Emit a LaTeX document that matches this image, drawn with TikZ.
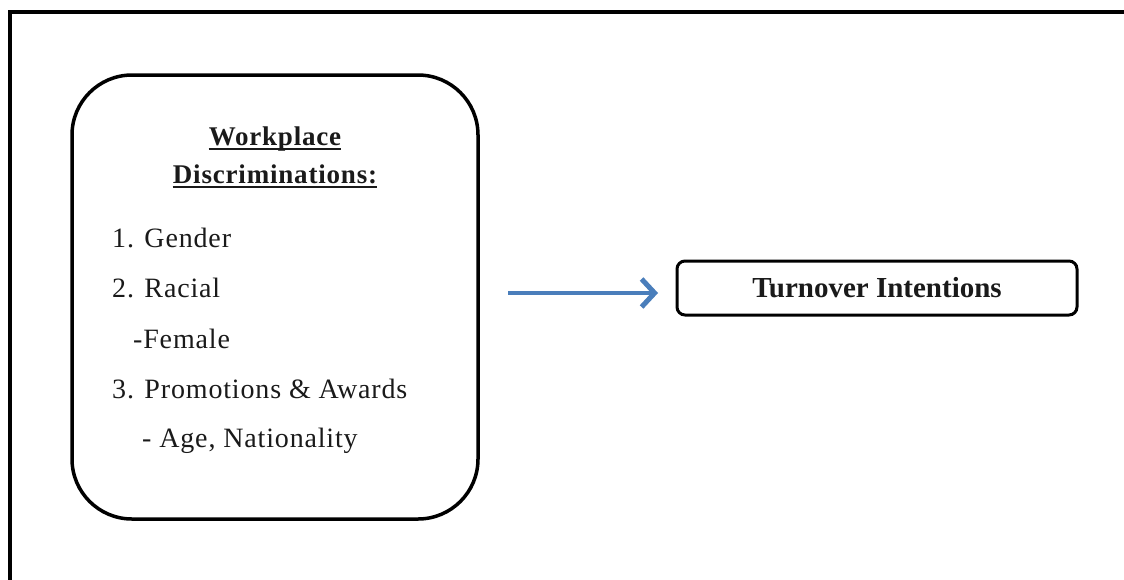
\documentclass[tikz,border=0pt]{standalone}
\usepackage{fontspec}
\setmainfont{Liberation Serif}
\newfontfamily\itemfont[LetterSpace=3, WordSpace=0.85]{Liberation Serif}
\newfontfamily\headfont[LetterSpace=3]{Liberation Serif}
\usetikzlibrary{arrows.meta}
\definecolor{flowblue}{HTML}{4A7EBB}
\definecolor{ink}{HTML}{1A1A1A}
\tikzset{
  frame/.style={line width=4pt, draw=black},
  rbox/.style={draw=black, line width=3.5pt, rounded corners=60pt, minimum width=406pt, minimum height=444pt, inner sep=0pt},
  tbox/.style={draw=black, line width=3pt, rounded corners=8pt, minimum width=400pt, minimum height=54pt, inner sep=0pt, font=\fontsize{29}{34}\selectfont\bfseries, text=ink},
  item/.style={anchor=base west, inner sep=0pt, font=\itemfont\fontsize{28}{33}\selectfont, text=ink},
  head/.style={anchor=base, inner sep=0pt, font=\headfont\fontsize{27}{32}\selectfont\bfseries, text=ink},
  uline/.style={line width=2pt, draw=ink},
  flow/.style={draw=flowblue, line width=4pt, -{Straight Barb[length=13pt, width=28pt, line width=5pt]}}
}
\begin{document}
\begin{tikzpicture}[x=1pt, y=-1pt]
\useasboundingbox (0,0) rectangle (1124,579);
\fill[white] (0,0) rectangle (1124,579);
\draw[frame] (10,581) -- (10,12) -- (1126,12);
\node[rbox] (disc) at (275,297) {};
\node[head] (h1) at (275,145) {Workplace};
\node[head] (h2) at (275,183) {Discriminations:};
\draw[uline] ([yshift=-4pt]h1.base west) -- ([yshift=-4pt]h1.base east);
\draw[uline] ([yshift=-4pt]h2.base west) -- ([yshift=-4pt]h2.base east);
\node[item] (l1) at (112,247) {1. Gender};
\node[item] (l2) at (112,297) {2. Racial};
\node[item] (l3) at (133,348) {-Female};
\node[item] (l4) at (112,398) {3. Promotions \& Awards};
\node[item] (l5) at (142,447) {- Age, Nationality};
\node[tbox] (turn) at (877,288) {Turnover Intentions};
\coordinate (a1) at (508,293);
\coordinate (a2) at (658,293);
\draw[flow] (a1) -- (a2);
\end{tikzpicture}
\end{document}
